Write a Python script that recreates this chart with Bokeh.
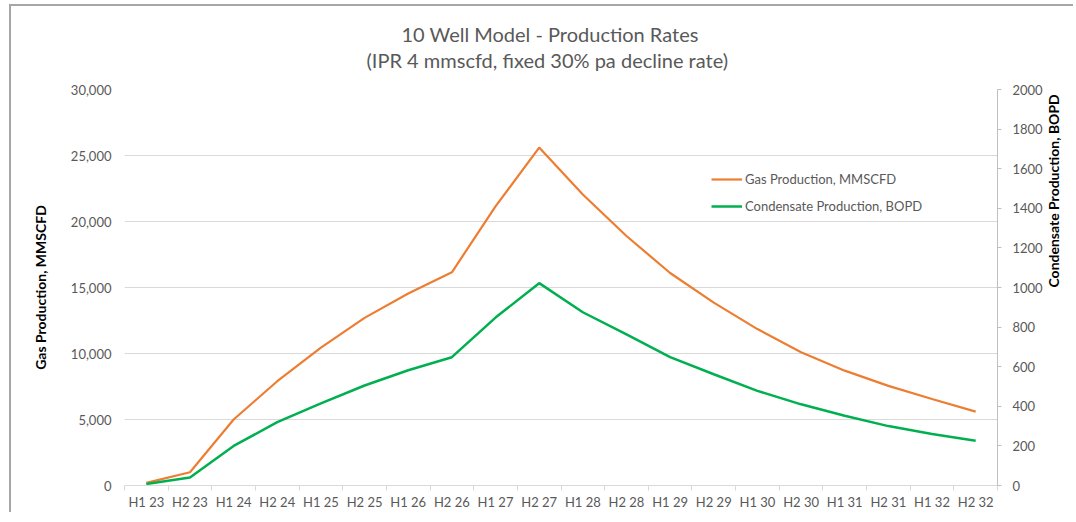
import math
from bokeh.plotting import figure
from bokeh.models import (Range1d, LinearAxis, FixedTicker, NumeralTickFormatter,
                          Legend, LegendItem, Title)
from bokeh.embed import file_html
from bokeh.resources import INLINE

periods = ["H1 23", "H2 23", "H1 24", "H2 24", "H1 25", "H2 25", "H1 26", "H2 26",
           "H1 27", "H2 27", "H1 28", "H2 28", "H1 29", "H2 29", "H1 30", "H2 30",
           "H1 31", "H2 31", "H1 32", "H2 32"]
gas = [200, 1000, 5000, 7900, 10450, 12700, 14550, 16150, 21150, 25600,
       22050, 18900, 16100, 13850, 11850, 10100, 8700, 7550, 6550, 5600]
condensate = [8, 40, 200, 320, 415, 505, 582, 648, 848, 1022,
              875, 763, 648, 562, 478, 410, 352, 300, 260, 226]
gas_ticks = [0, 5000, 10000, 15000, 20000, 25000, 30000]
cond_ticks = [0, 200, 400, 600, 800, 1000, 1200, 1400, 1600, 1800, 2000]
title_lines = ["10 Well Model - Production Rates",
               "(IPR 4 mmscfd, fixed 30% pa decline rate)"]
gas_label = "Gas Production, MMSCFD"
cond_label = "Condensate Production, BOPD"

FONT = "Lato"
GREY = "#595959"
xs = list(range(len(periods)))

p = figure(width=1073, height=512, output_backend="svg", toolbar_location=None,
           x_range=Range1d(-0.5, len(periods) - 0.5), y_range=Range1d(0, 30000),
           min_border_left=124, min_border_right=73, min_border_top=89,
           min_border_bottom=22)
p.styles = {
    "background-image": "linear-gradient(#a6a6a6, #a6a6a6), linear-gradient(#a6a6a6, #a6a6a6)",
    "background-size": "1070px 2px, 2px 520px",
    "background-position": "9px 4px, 9px 4px",
    "background-repeat": "no-repeat",
}
p.outline_line_color = None
p.background_fill_color = "white"
p.border_fill_alpha = 0
p.extra_y_ranges = {"cond": Range1d(0, 2000)}

# title lines: the first added sits nearest the plot frame
t2 = Title(text=title_lines[1] + "\n", align="left", offset=242, standoff=0,
           text_line_height=0.75,
           text_font=FONT, text_font_size="20px", text_font_style="normal", text_color=GREY)
t1 = Title(text=title_lines[0], align="left", offset=277, standoff=0,
           text_font=FONT, text_font_size="20px", text_font_style="normal", text_color=GREY)
p.add_layout(t2, "above")
p.add_layout(t1, "above")

# x axis
xax = p.xaxis[0]
xax.ticker = FixedTicker(ticks=xs, minor_ticks=[i - 0.5 for i in range(len(periods) + 1)])
xax.major_label_overrides = {i: lab for i, lab in enumerate(periods)}
xax.major_tick_line_color = None
xax.major_tick_in = 0
xax.major_tick_out = 0
xax.minor_tick_in = 0
xax.minor_tick_out = 5
xax.minor_tick_line_color = "#d9d9d9"
xax.axis_line_color = "#d9d9d9"
xax.major_label_text_font = FONT
xax.major_label_text_font_size = "13px"
xax.major_label_text_color = GREY
xax.major_label_standoff = 3

# left axis
yax = p.yaxis[0]
yax.ticker = FixedTicker(ticks=gas_ticks)
yax.formatter = NumeralTickFormatter(format="0,0")
yax.axis_line_color = None
yax.major_tick_line_color = None
yax.major_tick_in = 0
yax.major_tick_out = 0
yax.minor_tick_line_color = None
yax.major_label_text_font = FONT
yax.major_label_text_font_size = "13px"
yax.major_label_text_color = GREY
yax.major_label_standoff = 13
yax.axis_label = gas_label
yax.axis_label_text_font = FONT
yax.axis_label_text_font_size = "14px"
yax.axis_label_text_font_style = "bold"
yax.axis_label_text_color = "black"
yax.axis_label_standoff = 19

# right axis
rax = LinearAxis(y_range_name="cond", ticker=FixedTicker(ticks=cond_ticks))
rax.axis_line_color = "#bfbfbf"
rax.major_tick_line_color = "#bfbfbf"
rax.major_tick_in = 0
rax.major_tick_out = 4
rax.minor_tick_line_color = None
rax.major_label_text_font = FONT
rax.major_label_text_font_size = "13px"
rax.major_label_text_color = GREY
rax.major_label_standoff = 11
rax.axis_label = cond_label
rax.axis_label_text_font = FONT
rax.axis_label_text_font_size = "14px"
rax.axis_label_text_font_style = "bold"
rax.axis_label_text_color = "black"
rax.axis_label_text_align = "center"
rax.axis_label_standoff = 8
rax.axis_label_orientation = math.pi / 2
p.add_layout(rax, "right")

p.xgrid.grid_line_color = None
p.ygrid.grid_line_color = "#d9d9d9"
p.ygrid.ticker = FixedTicker(ticks=gas_ticks)

g = p.line(xs, gas, line_color="#ED7D31", line_width=2.2)
c = p.line(xs, condensate, line_color="#00B050", line_width=2.5, y_range_name="cond")

legend = Legend(items=[LegendItem(label=gas_label, renderers=[g]),
                       LegendItem(label=cond_label, renderers=[c])],
                location=(587, 269), border_line_color=None, background_fill_alpha=0,
                label_text_font=FONT, label_text_font_size="13px", label_text_color=GREY,
                glyph_width=31, label_standoff=3, padding=0, margin=0, spacing=7,
                label_height=20, glyph_height=20)
p.add_layout(legend, "center")

open("out.html", "w").write(file_html(p, INLINE))
